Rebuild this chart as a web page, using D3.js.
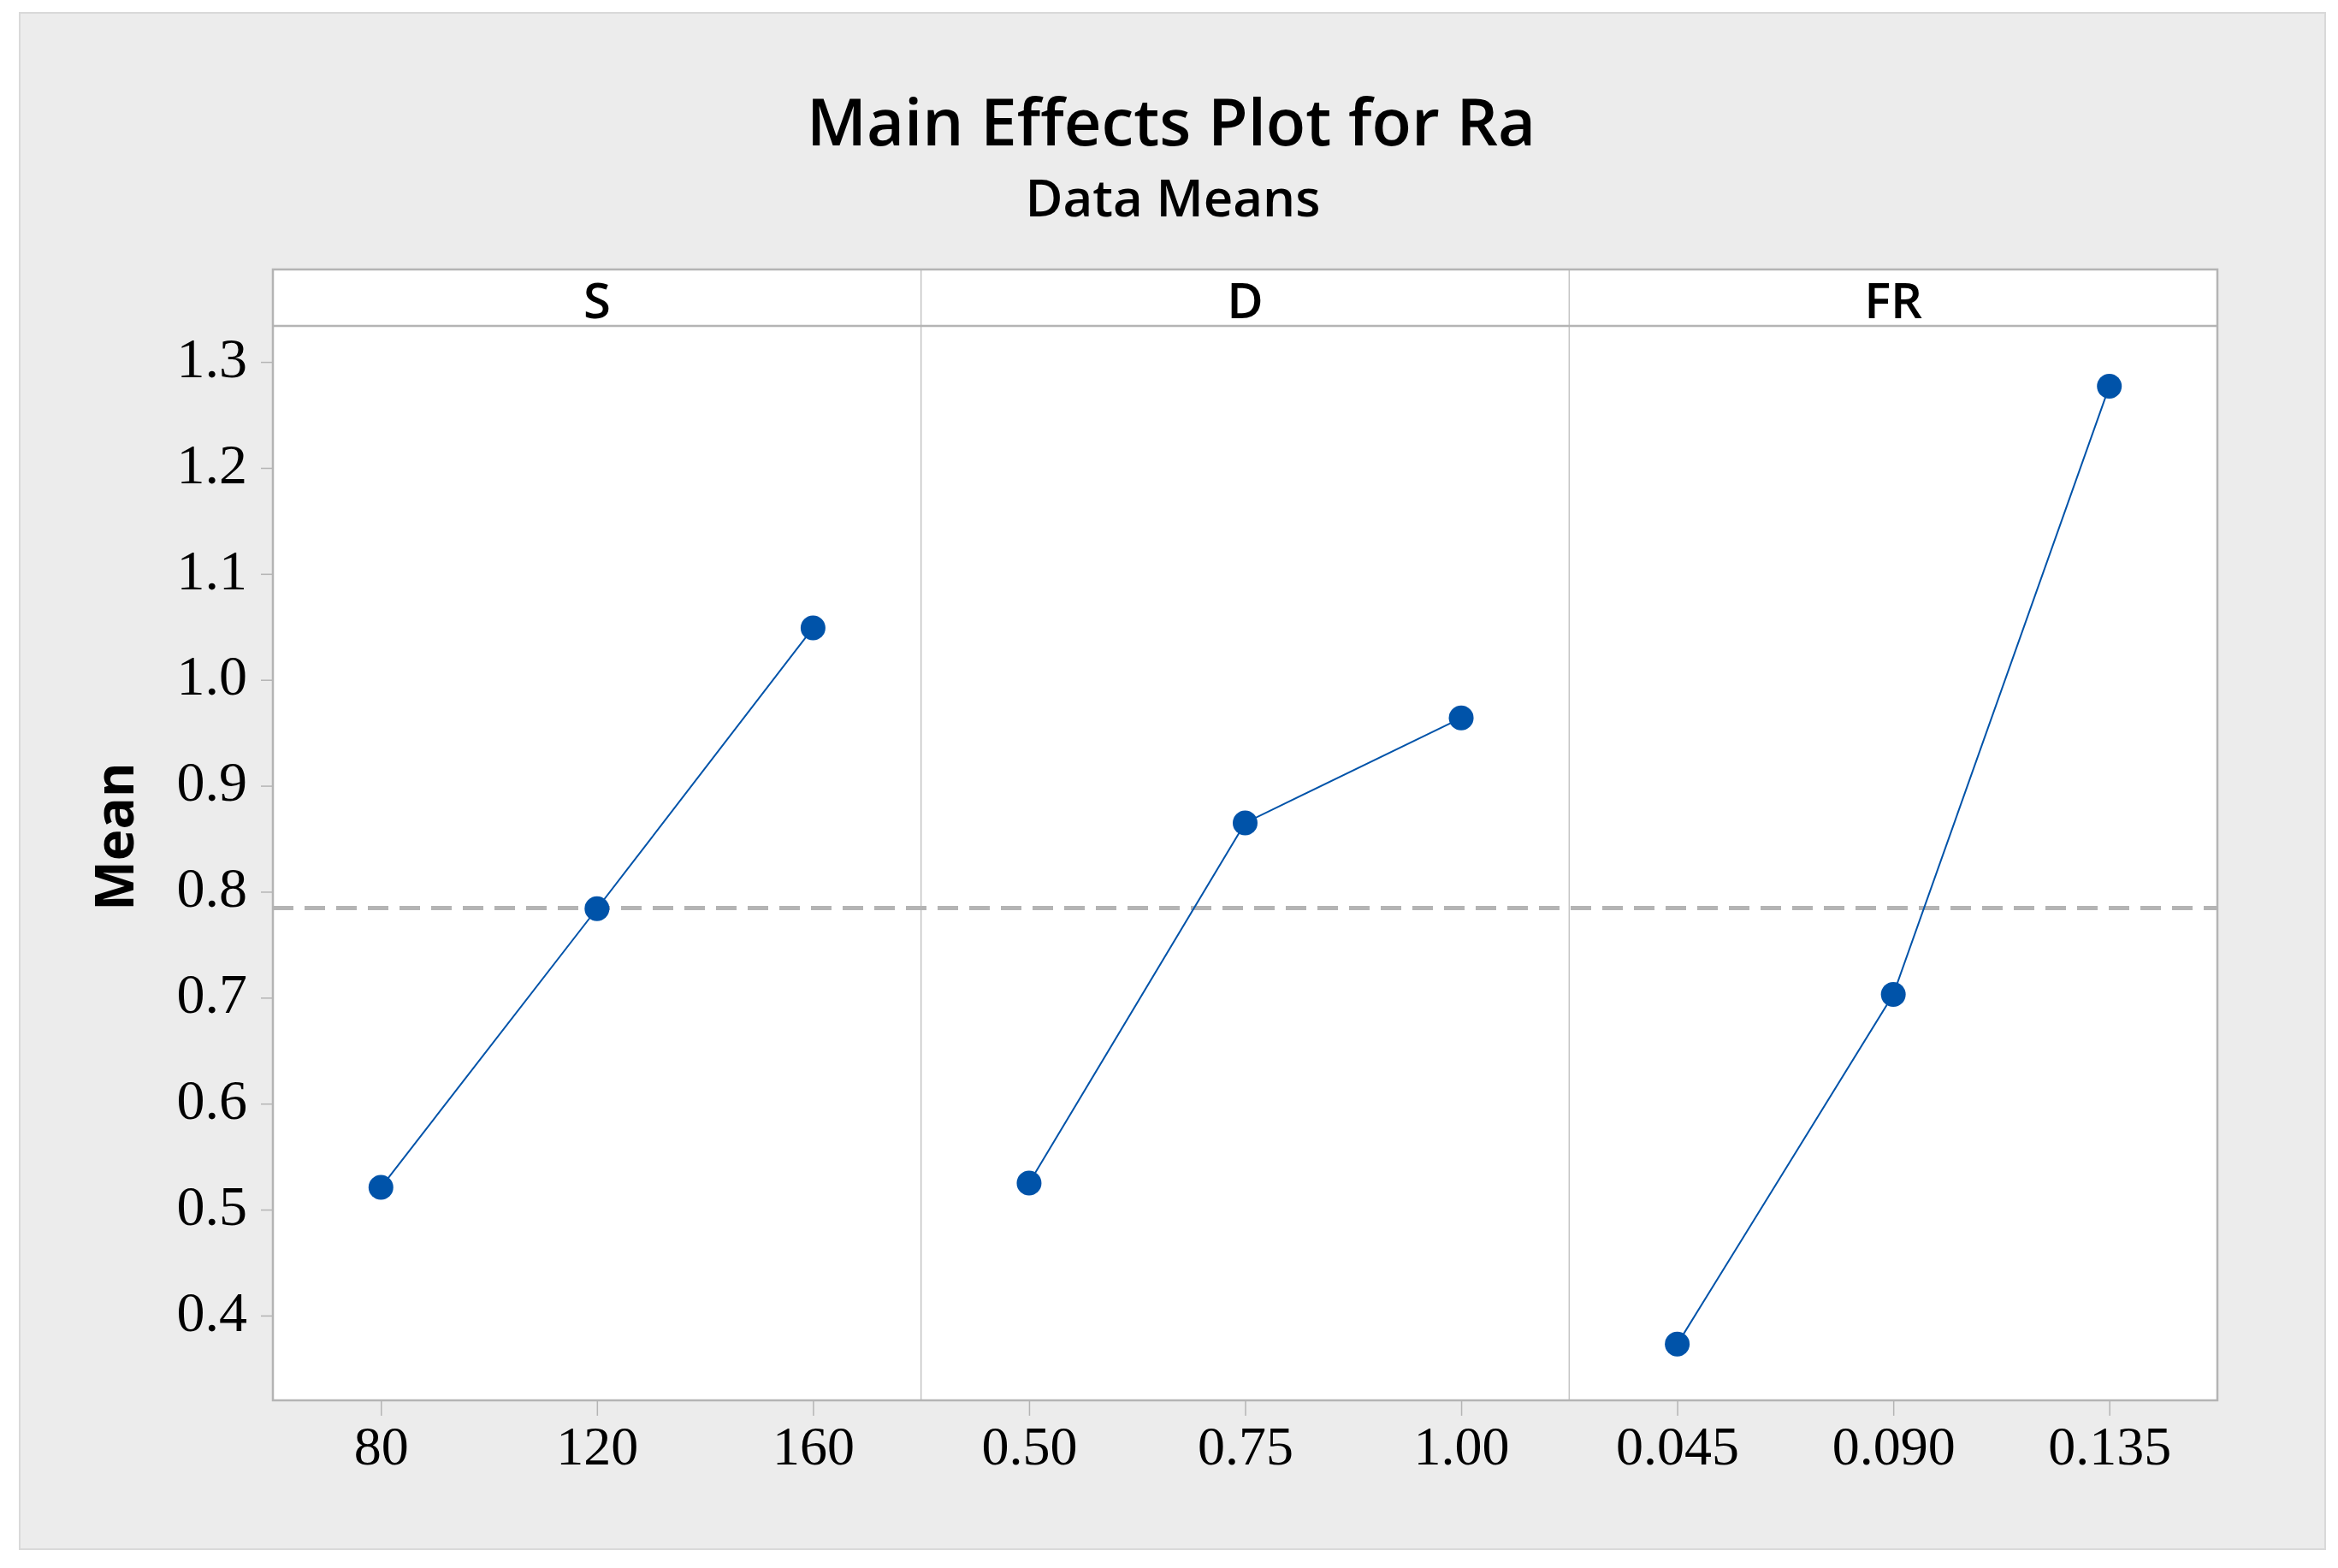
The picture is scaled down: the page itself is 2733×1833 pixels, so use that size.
<!DOCTYPE html>
<html>
<head>
<meta charset="utf-8">
<script src="https://cdn.jsdelivr.net/npm/d3@7"></script>
<style>
  html, body { margin: 0; padding: 0; background: #ffffff; }
  svg { display: block; }
</style>
</head>
<body>
<svg id="chart" width="2733" height="1833"></svg>
<script>
// ---- Data ----
const factors = ["S", "D", "FR"];
const sLevels = ["80", "120", "160"];
const sMeans = [0.521, 0.784, 1.049];
const dLevels = ["0.50", "0.75", "1.00"];
const dMeans = [0.525, 0.865, 0.964];
const frLevels = ["0.045", "0.090", "0.135"];
const frMeans = [0.373, 0.703, 1.277];
const yTickValues = [0.4, 0.5, 0.6, 0.7, 0.8, 0.9, 1.0, 1.1, 1.2, 1.3];
const titleText = "Main Effects Plot for Ra";
const subtitleText = "Data Means";
const yLabel = "Mean";

const panelData = [
  { name: factors[0], levels: sLevels, means: sMeans },
  { name: factors[1], levels: dLevels, means: dMeans },
  { name: factors[2], levels: frLevels, means: frMeans }
];
const grandMean = d3.mean([].concat(sMeans, dMeans, frMeans));

// ---- Layout ----
const W = 2733, H = 1833;
const plotL = 319, plotR = 2592, stripT = 315, plotT = 381, plotB = 1637;
const panelW = (plotR - plotL) / 3;
const gridCol = "#b4b4b4";
const blue = "#0053a9";
const tickFont = "'Liberation Serif', 'Times New Roman', serif";
const sansFont = "'Open Sans', 'Noto Sans', sans-serif";

const svg = d3.select("#chart");

// backgrounds
svg.append("rect").attr("x", 0).attr("y", 0).attr("width", W).attr("height", H).attr("fill", "#ffffff");
svg.append("rect").attr("x", 23).attr("y", 15).attr("width", 2695).attr("height", 1796)
  .attr("fill", "#ececec").attr("stroke", "#d9d9d9").attr("stroke-width", 2);

// plot area
svg.append("rect").attr("x", plotL).attr("y", stripT).attr("width", plotR - plotL).attr("height", plotB - stripT)
  .attr("fill", "#ffffff");

const y = d3.scaleLinear().domain([0.32, 1.334]).range([plotB, plotT]);

// panel dividers
for (let i = 1; i < 3; i++) {
  const xd = plotL + i * panelW;
  svg.append("line").attr("x1", xd).attr("x2", xd).attr("y1", stripT).attr("y2", plotB)
    .attr("stroke", "#c4c4c4").attr("stroke-width", 1.5);
}

// strip bottom line
svg.append("line").attr("x1", plotL).attr("x2", plotR).attr("y1", plotT).attr("y2", plotT)
  .attr("stroke", gridCol).attr("stroke-width", 2.5);

// grand mean dashed line
svg.append("line").attr("x1", plotL).attr("x2", plotR)
  .attr("y1", y(grandMean)).attr("y2", y(grandMean))
  .attr("stroke", gridCol).attr("stroke-width", 5).attr("stroke-dasharray", "24,13");

// panels
panelData.forEach((p, i) => {
  const x0 = plotL + i * panelW;
  const x = d3.scalePoint().domain(p.levels).range([x0, x0 + panelW]).padding(0.5);

  // strip label
  svg.append("text").attr("x", x0 + panelW / 2).attr("y", 372)
    .attr("text-anchor", "middle").attr("font-family", sansFont).attr("font-weight", 600)
    .attr("font-size", 58).attr("fill", "#000").text(p.name);

  // x axis
  const gx = svg.append("g").attr("transform", `translate(0,${plotB})`)
    .call(d3.axisBottom(x).tickSize(18).tickPadding(12).tickSizeOuter(0));
  gx.select(".domain").remove();
  gx.selectAll(".tick line").attr("stroke", gridCol).attr("stroke-width", 1.5);
  gx.selectAll(".tick text").attr("font-family", tickFont).attr("font-size", 64).attr("fill", "#000");

  const pts = p.levels.map((l, j) => [x(l), y(p.means[j])]);
  svg.append("path").datum(pts)
    .attr("d", d3.line())
    .attr("fill", "none").attr("stroke", blue).attr("stroke-width", 2);
  svg.append("g").selectAll("circle").data(pts).join("circle")
    .attr("cx", d => d[0]).attr("cy", d => d[1]).attr("r", 14.5).attr("fill", blue);
});

// y axis
const gy = svg.append("g").attr("transform", `translate(${plotL},0)`)
  .call(d3.axisLeft(y).tickValues(yTickValues).tickFormat(d3.format(".1f")).tickSize(14).tickPadding(16).tickSizeOuter(0));
gy.select(".domain").remove();
gy.selectAll(".tick line").attr("stroke", gridCol).attr("stroke-width", 1.5);
gy.selectAll(".tick text").attr("font-family", tickFont).attr("font-size", 66).attr("fill", "#000").attr("dy", "0.26em");

// plot border
svg.append("rect").attr("x", plotL).attr("y", stripT).attr("width", plotR - plotL).attr("height", plotB - stripT)
  .attr("fill", "none").attr("stroke", gridCol).attr("stroke-width", 2.5);

// titles
svg.append("text").attr("x", 1369).attr("y", 170).attr("text-anchor", "middle")
  .attr("font-family", sansFont).attr("font-weight", 600).attr("font-size", 76).attr("fill", "#000")
  .text(titleText);
svg.append("text").attr("x", 1371).attr("y", 253).attr("text-anchor", "middle")
  .attr("font-family", sansFont).attr("font-weight", 600).attr("font-size", 60).attr("fill", "#000")
  .text(subtitleText);

// y label
svg.append("text").attr("transform", "translate(156,978) rotate(-90)").attr("text-anchor", "middle")
  .attr("font-family", sansFont).attr("font-weight", 700).attr("font-size", 62).attr("fill", "#000")
  .text(yLabel);
</script>
</body>
</html>
